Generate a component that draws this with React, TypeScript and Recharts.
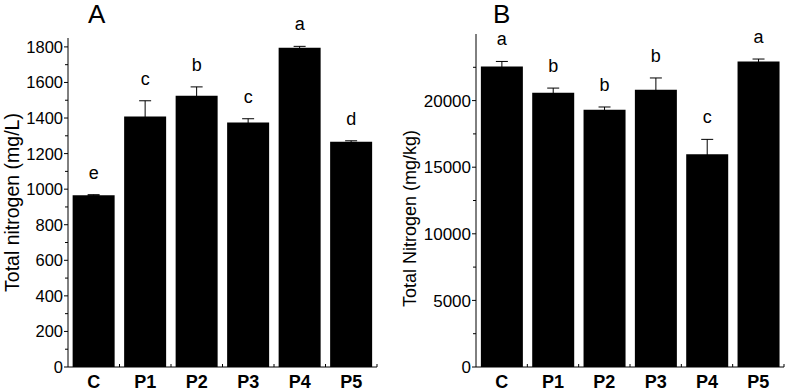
import React from 'react';
import { BarChart, Bar, XAxis, YAxis, ErrorBar, LabelList, Label } from 'recharts';

const categories = ['C', 'P1', 'P2', 'P3', 'P4', 'P5'];

const nitrogenA = [966, 1409, 1525, 1375, 1795, 1267];
const errA = [3, 88, 50, 21, 8, 5];
const lettersA = ['e', 'c', 'b', 'c', 'a', 'd'];
const majorTicksA = [0, 200, 400, 600, 800, 1000, 1200, 1400, 1600, 1800];
const minorTicksA = [100, 300, 500, 700, 900, 1100, 1300, 1500, 1700];

const nitrogenB = [22560, 20590, 19320, 20820, 15970, 22940];
const errB = [380, 350, 200, 880, 1120, 180];
const lettersB = ['a', 'b', 'b', 'b', 'c', 'a'];
const majorTicksB = [0, 5000, 10000, 15000, 20000];
const minorTicksB = [2500, 7500, 12500, 17500, 22500];

const FONT = '"Liberation Sans", Arial, sans-serif';

const dataA = categories.map((c, i) => ({ cat: c, v: nitrogenA[i], e: errA[i], l: lettersA[i] }));
const dataB = categories.map((c, i) => ({ cat: c, v: nitrogenB[i], e: errB[i], l: lettersB[i] }));

const makeYTick = (majors: number[], fontSize: number) => (props: any) => {
  const { x, y, payload } = props;
  const isMajor = majors.includes(payload.value);
  return (
    <g>
      <line x1={x - (isMajor ? 4 : 3)} x2={x} y1={y} y2={y} stroke="#000" strokeWidth={1} />
      {isMajor && (
        <text x={x - 5} y={y} dy="0.36em" textAnchor="end" fontFamily={FONT} fontSize={fontSize} fill="#000">
          {payload.value}
        </text>
      )}
    </g>
  );
};

const makeXTick = (band: number, count: number) => (props: any) => {
  const { x, y, payload, index } = props;
  const left = x - band / 2;
  const right = x + band / 2;
  return (
    <g>
      {index > 0 && <line x1={left} x2={left} y1={y} y2={y - 3} stroke="#000" strokeWidth={1} />}
      {index === count - 1 && <line x1={right} x2={right} y1={y} y2={y - 3} stroke="#000" strokeWidth={1} />}
      <text x={x} y={y + 21} textAnchor="middle" fontFamily={FONT} fontSize={18} fontWeight="bold" fill="#000">
        {payload.value}
      </text>
    </g>
  );
};

const makeLetterLabel = (errs: number[], letters: string[]) => (props: any) => {
  const vb = props.viewBox || props;
  const x = vb.x ?? props.x;
  const y = vb.y ?? props.y;
  const w = vb.width ?? props.width;
  const h = Math.abs(vb.height ?? props.height);
  const idx = props.index;
  const val = props.value;
  const pxPerUnit = val ? h / val : 0;
  const errTop = y - errs[idx] * pxPerUnit;
  return (
    <text x={x + w / 2} y={errTop - 16} textAnchor="middle" fontFamily={FONT} fontSize={18} fill="#000">
      {letters[idx]}
    </text>
  );
};

const makeYLabel = (text: string, dx: number, dyShift: number, fontSize: number) => (props: any) => {
  const vb = props.viewBox;
  const cx = vb.x + dx;
  const cy = vb.y + vb.height / 2 + dyShift;
  return (
    <text
      x={cx}
      y={cy}
      transform={`rotate(-90 ${cx} ${cy})`}
      textAnchor="middle"
      dominantBaseline="central"
      fontFamily={FONT}
      fontSize={fontSize}
      fill="#000"
    >
      {text}
    </text>
  );
};

export default function App() {
  const ticksA = [...majorTicksA, ...minorTicksA].sort((a, b) => a - b);
  const ticksB = [...majorTicksB, ...minorTicksB].sort((a, b) => a - b);

  const wA = 393;
  const hA = 391;
  const mA = { top: 38, right: 16, bottom: 0, left: 0 };
  const yAxisWA = 68;
  const bandA = (wA - mA.left - mA.right - yAxisWA) / categories.length;

  const wB = 394;
  const hB = 391;
  const mB = { top: 34, right: 3, bottom: 0, left: 0 };
  const yAxisWB = 83;
  const bandB = (wB - mB.left - mB.right - yAxisWB) / categories.length;

  return (
    <div style={{ position: 'absolute', left: 0, top: 0, width: 787, height: 391, background: '#fff', overflow: 'hidden' }}>
      <div style={{ position: 'absolute', left: 0, top: 0 }}>
        <BarChart width={wA} height={hA} data={dataA} margin={mA} barCategoryGap="9%">
          <XAxis
            dataKey="cat"
            axisLine={{ stroke: '#000', strokeWidth: 1 }}
            tickLine={false}
            tickSize={0}
            tickMargin={0}
            height={24}
            interval={0}
            tick={makeXTick(bandA, categories.length)}
          />
          <YAxis
            type="number"
            domain={[0, 1850]}
            ticks={ticksA}
            interval={0}
            width={yAxisWA}
            axisLine={{ stroke: '#000', strokeWidth: 1 }}
            tickLine={false}
            tickSize={0}
            tickMargin={0}
            tick={makeYTick(majorTicksA, 16.5)}
          >
            <Label content={makeYLabel('Total nitrogen (mg/L)', 12, 0, 19.5)} />
          </YAxis>
          <Bar dataKey="v" fill="#000" isAnimationActive={false}>
            <ErrorBar dataKey="e" width={6} stroke="#000" strokeWidth={1} direction="y" isAnimationActive={false} />
            <LabelList dataKey="v" content={makeLetterLabel(errA, lettersA)} />
          </Bar>
        </BarChart>
      </div>
      <div style={{ position: 'absolute', left: 393, top: 0 }}>
        <BarChart width={wB} height={hB} data={dataB} margin={mB} barCategoryGap="9.5%">
          <XAxis
            dataKey="cat"
            axisLine={{ stroke: '#000', strokeWidth: 1 }}
            tickLine={false}
            tickSize={0}
            tickMargin={0}
            height={24}
            interval={0}
            tick={makeXTick(bandB, categories.length)}
          />
          <YAxis
            type="number"
            domain={[0, 25000]}
            ticks={ticksB}
            interval={0}
            width={yAxisWB}
            axisLine={{ stroke: '#000', strokeWidth: 1 }}
            tickLine={false}
            tickSize={0}
            tickMargin={0}
            tick={makeYTick(majorTicksB, 17)}
          >
            <Label content={makeYLabel('Total Nitrogen (mg/kg)', 17, 18, 18)} />
          </YAxis>
          <Bar dataKey="v" fill="#000" isAnimationActive={false}>
            <ErrorBar dataKey="e" width={6} stroke="#000" strokeWidth={1} direction="y" isAnimationActive={false} />
            <LabelList dataKey="v" content={makeLetterLabel(errB, lettersB)} />
          </Bar>
        </BarChart>
      </div>
      <div style={{ position: 'absolute', left: 88, top: 1, fontFamily: FONT, fontSize: 26, lineHeight: 1, color: '#000' }}>A</div>
      <div style={{ position: 'absolute', left: 493, top: 1, fontFamily: FONT, fontSize: 26, lineHeight: 1, color: '#000' }}>B</div>
    </div>
  );
}
